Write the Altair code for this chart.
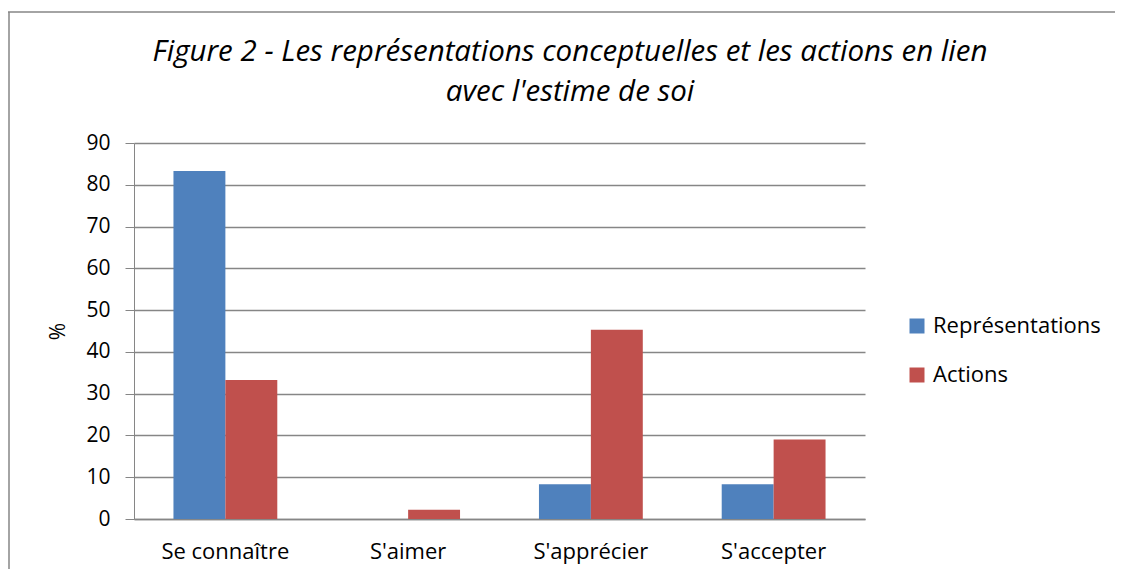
import altair as alt
import pandas as pd

categories = ["Se connaître", "S'aimer", "S'apprécier", "S'accepter"]
series = ["Représentations", "Actions"]
representations = [83.3, 0, 8.3, 8.3]
actions = [33.3, 2.2, 45.3, 19.0]
colors = ["#4F81BD", "#C0504D"]
y_ticks = [0, 10, 20, 30, 40, 50, 60, 70, 80, 90]
title_lines = ["Figure 2 - Les représentations conceptuelles et les actions en lien",
               "avec l'estime de soi"]

rows = []
for c, r, a in zip(categories, representations, actions):
    rows.append({"cat": c, "serie": series[0], "val": r})
    rows.append({"cat": c, "serie": series[1], "val": a})
df = pd.DataFrame(rows)

FONT = "Open Sans"

bars = alt.Chart(df).mark_bar(strokeWidth=0).encode(
    x=alt.X("cat:N", sort=categories, title=None,
            scale=alt.Scale(paddingInner=0, paddingOuter=0),
            axis=alt.Axis(labelAngle=0, labelFontSize=22, labelColor="#000000",
                          labelFont=FONT, labelPadding=22, ticks=False,
                          domainColor="#868686", domainWidth=1.5, grid=False)),
    xOffset=alt.XOffset("serie:N", sort=series,
                        scale=alt.Scale(paddingInner=0, paddingOuter=0.76)),
    y=alt.Y("val:Q", title="%",
            scale=alt.Scale(domain=[0, 90], nice=False),
            axis=alt.Axis(values=y_ticks, labelFontSize=21, labelColor="#000000",
                          labelFont=FONT, labelPadding=15, tickSize=9,
                          tickColor="#868686", domainColor="#868686",
                          gridColor="#868686", gridWidth=1.5,
                          titleFont=FONT, titleFontSize=21, titleFontWeight="normal",
                          titleColor="#000000", titleX=-66, titleY=188)),
    color=alt.Color("serie:N", sort=series,
                    scale=alt.Scale(domain=series, range=colors),
                    legend=alt.Legend(title=None, orient="none", legendX=772,
                                      legendY=172, symbolType="square",
                                      symbolSize=225, labelFontSize=22,
                                      labelFont=FONT, labelColor="#000000",
                                      rowPadding=27, symbolStrokeWidth=0,
                                      labelOffset=5, labelLimit=400)),
)

frame = pd.DataFrame({"k": [0]})
top_line = alt.Chart(frame).mark_rule(color="#868686", strokeWidth=1.5).encode(
    x=alt.value(-126), x2=alt.value(990), y=alt.value(-131))
left_line = alt.Chart(frame).mark_rule(color="#868686", strokeWidth=1.5).encode(
    x=alt.value(-125), y=alt.value(-131), y2=alt.value(430))

tdf = pd.DataFrame({"t": title_lines, "i": [0, 1]})
title1 = alt.Chart(tdf).transform_filter("datum.i == 0").mark_text(
    font=FONT, fontSize=29.5, fontStyle="italic", color="#000000",
    align="center", baseline="middle").encode(
    text="t:N", x=alt.value(436), y=alt.value(-91))
title2 = alt.Chart(tdf).transform_filter("datum.i == 1").mark_text(
    font=FONT, fontSize=29.5, fontStyle="italic", color="#000000",
    align="center", baseline="middle").encode(
    text="t:N", x=alt.value(436), y=alt.value(-51))

chart = alt.layer(bars, top_line, left_line, title1, title2).properties(
    width=731, height=376,
    autosize=alt.AutoSizeParams(type="none"),
    padding={"left": 126, "top": 135, "right": 250, "bottom": 50},
).configure_view(stroke=None)

chart.save("out.html", embed_options={"renderer": "svg", "actions": False})
